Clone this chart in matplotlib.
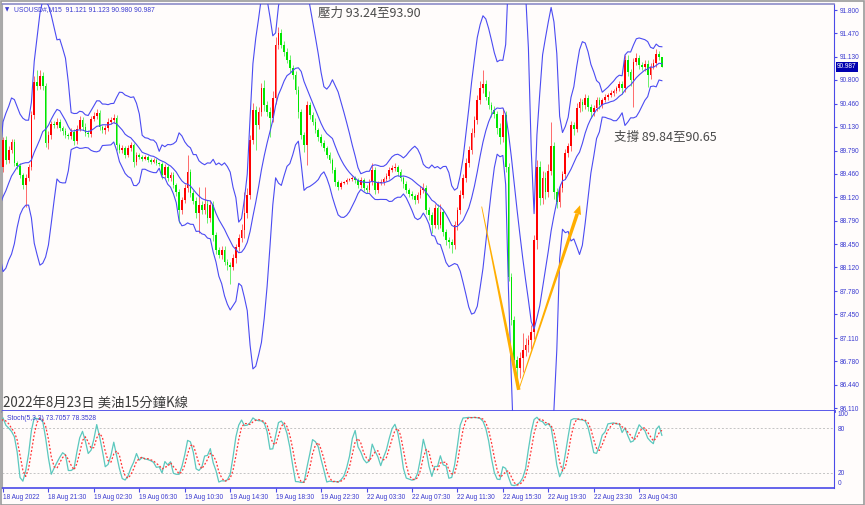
import matplotlib
matplotlib.use("Agg")
import matplotlib.pyplot as plt
import numpy as np
import pandas as pd
from matplotlib.patches import Polygon, Rectangle

# ---- data (USOUSD#, M15) ----
# closes before the first visible bar, only used to warm up the indicators
pre_closes = [88.58, 88.60, 88.55, 88.62, 88.70, 88.66, 88.74, 88.80, 88.72, 88.85,
              88.78, 88.80, 88.72, 88.88, 88.98, 88.92, 89.06, 89.15, 89.30, 89.55]
pre_wick_hi = [5, 4, 6, 3, 5, 4, 6, 5, 4, 5, 6, 4, 5, 6, 5, 4, 6, 5, 4, 6]
pre_wick_lo = [4, 5, 3, 6, 4, 5, 4, 6, 5, 4, 5, 6, 4, 5, 4, 6, 5, 4, 6, 5]
first_open = 88.55

closes = [
    89.94, 89.65, 89.80, 89.91, 89.61, 89.57, 89.44, 89.30, 89.40, 89.56,
    90.30, 90.77, 90.71, 90.86, 90.71, 89.90, 90.01, 90.17, 90.16, 90.20,
    90.11, 90.07, 90.01, 90.00, 90.06, 89.93, 90.10, 90.23, 90.13, 90.04,
    90.03, 90.24, 90.28, 90.33, 90.13, 90.08, 90.11, 90.20, 90.23, 90.26,
    89.87, 89.80, 89.83, 89.73, 89.83, 89.87, 89.63, 89.73, 89.70, 89.67,
    89.70, 89.66, 89.63, 89.66, 89.61, 89.60, 89.44, 89.56, 89.40, 89.44,
    89.30, 89.20, 88.94, 89.08, 89.25, 89.48, 89.18, 89.07, 88.90, 89.01,
    88.94, 89.03, 88.83, 89.01, 88.58, 88.37, 88.30, 88.37, 88.20, 88.15,
    88.13, 88.25, 88.41, 88.54, 88.66, 88.90, 89.16, 89.94, 90.37, 90.16,
    90.34, 90.68, 90.44, 90.34, 90.26, 90.54, 91.30, 91.47, 91.30, 91.20,
    91.09, 90.97, 90.87, 90.66, 90.34, 90.01, 89.87, 90.44, 90.30, 90.20,
    90.08, 89.98, 89.90, 89.83, 89.73, 89.66, 89.51, 89.34, 89.27, 89.33,
    89.34, 89.37, 89.38, 89.40, 89.37, 89.30, 89.37, 89.26, 89.23, 89.34,
    89.51, 89.23, 89.33, 89.34, 89.38, 89.43, 89.51, 89.54, 89.56, 89.48,
    89.40, 89.31, 89.23, 89.17, 89.14, 89.08, 89.16, 89.23, 89.26, 88.94,
    88.87, 88.73, 88.97, 88.73, 88.91, 88.63, 88.51, 88.48, 88.44, 88.73,
    88.94, 89.16, 89.40, 89.61, 89.80, 90.04, 90.23, 90.51, 90.68, 90.74,
    90.56, 90.44, 90.37, 90.31, 90.11, 89.98, 90.30, 89.56, 87.98, 87.37,
    86.80, 86.68, 86.83, 86.94, 87.01, 87.08, 87.20, 88.51, 89.56, 89.11,
    89.40, 89.20, 89.50, 89.85, 89.20, 89.05, 89.25, 89.45, 89.75, 89.85,
    90.15, 90.10, 90.40, 90.48, 90.44, 90.54, 90.41, 90.34, 90.40, 90.51,
    90.44, 90.51, 90.56, 90.58, 90.61, 90.64, 90.68, 90.74, 90.68, 91.09,
    90.91, 90.80, 91.06, 91.11, 91.01, 90.99, 91.03, 90.87, 90.99, 91.04,
    91.17, 91.121, 90.987,
]
# wick length above / below the body, in cents
wick_hi = [
    4, 6, 5, 4, 5, 3, 4, 3, 5, 4,
    6, 8, 17, 8, 6, 5, 6, 5, 4, 5,
    4, 3, 4, 3, 5, 4, 5, 6, 4, 5,
    4, 5, 6, 5, 4, 3, 4, 5, 4, 6,
    4, 3, 4, 3, 4, 5, 3, 4, 3, 2,
    3, 2, 2, 3, 2, 2, 3, 4, 3, 5,
    4, 3, 4, 5, 6, 25, 5, 4, 5, 26,
    6, 24, 5, 8, 6, 5, 4, 6, 5, 4,
    5, 6, 5, 6, 8, 30, 10, 8, 10, 6,
    8, 8, 12, 6, 8, 10, 12, 9, 6, 5,
    5, 6, 5, 6, 5, 4, 5, 6, 5, 4,
    5, 4, 5, 4, 3, 4, 3, 4, 3, 3,
    2, 3, 2, 3, 2, 3, 4, 3, 4, 5,
    10, 4, 3, 4, 3, 4, 5, 4, 5, 3,
    4, 3, 4, 3, 4, 3, 4, 5, 6, 4,
    5, 4, 6, 5, 12, 5, 4, 5, 4, 6,
    5, 6, 5, 8, 6, 7, 6, 8, 10, 20,
    6, 8, 5, 6, 5, 8, 10, 6, 5, 6,
    5, 6, 8, 24, 10, 8, 10, 8, 10, 8,
    10, 8, 10, 35, 6, 5, 6, 5, 6, 5,
    6, 5, 7, 6, 5, 6, 4, 5, 4, 5,
    4, 3, 4, 3, 4, 3, 4, 4, 5, 6,
    6, 5, 5, 8, 5, 4, 5, 6, 5, 6,
    7, 5, 0.2,
]
wick_lo = [
    6, 5, 4, 5, 4, 5, 4, 6, 32, 4,
    5, 6, 5, 4, 6, 6, 8, 5, 4, 5,
    4, 5, 4, 5, 4, 6, 4, 3, 5, 4,
    5, 4, 3, 4, 5, 4, 5, 4, 3, 4,
    7, 5, 4, 5, 3, 4, 8, 4, 3, 3,
    2, 3, 3, 2, 3, 3, 6, 4, 5, 4,
    5, 6, 19, 5, 4, 5, 6, 5, 8, 29,
    6, 5, 8, 6, 8, 6, 5, 6, 5, 6,
    25, 5, 6, 5, 6, 12, 8, 6, 6, 36,
    6, 6, 8, 6, 28, 6, 8, 6, 5, 6,
    5, 6, 5, 6, 8, 6, 10, 29, 6, 5,
    4, 5, 4, 5, 4, 5, 4, 5, 4, 3,
    2, 3, 2, 3, 4, 5, 4, 5, 4, 3,
    4, 6, 4, 3, 4, 3, 4, 3, 4, 5,
    4, 5, 4, 5, 4, 5, 4, 5, 4, 6,
    7, 12, 5, 6, 5, 6, 7, 8, 11, 6,
    8, 6, 5, 6, 5, 6, 5, 6, 5, 6,
    5, 6, 10, 6, 8, 10, 6, 8, 6, 8,
    10, 24, 14, 20, 8, 10, 12, 10, 12, 10,
    8, 10, 8, 6, 10, 8, 6, 5, 6, 5,
    6, 8, 5, 6, 8, 5, 6, 8, 5, 4,
    6, 4, 3, 4, 3, 4, 3, 4, 8, 5,
    6, 8, 39, 5, 6, 5, 6, 17, 5, 4,
    5, 4, 0.7,
]

price_ticks = [91.800, 91.470, 91.130, 90.800, 90.460, 90.130, 89.790, 89.460, 89.120,
               88.790, 88.450, 88.120, 87.780, 87.450, 87.110, 86.780, 86.440, 86.110]
time_labels = ['18 Aug 2022', '18 Aug 21:30', '19 Aug 02:30', '19 Aug 06:30', '19 Aug 10:30',
               '19 Aug 14:30', '19 Aug 18:30', '19 Aug 22:30', '22 Aug 03:30', '22 Aug 07:30',
               '22 Aug 11:30', '22 Aug 15:30', '22 Aug 19:30', '22 Aug 23:30', '23 Aug 04:30']
bars_per_label = 16
bb_period, bb_dev = 10, 3

# V annotation (bar index, price)
v_left_top = (168.55, 88.99)
v_bottom = (181.6, 86.37)
v_right_tip = (203.2, 89.01)

# ---- bars and indicators ----
n_pre = len(pre_closes)
c_all = np.array(pre_closes + closes, dtype=float)
o_all = np.r_[first_open, c_all[:-1]]
h_all = np.maximum(o_all, c_all) + np.array(pre_wick_hi + wick_hi) / 100.0
l_all = np.minimum(o_all, c_all) - np.array(pre_wick_lo + wick_lo) / 100.0
x_all = np.arange(len(c_all)) - n_pre

s = pd.Series(c_all)
bb_mid = s.rolling(bb_period).mean()
bb_sd = s.rolling(bb_period).std(ddof=0)
bb_up = bb_mid + bb_dev * bb_sd
bb_lo = bb_mid - bb_dev * bb_sd

ll = pd.Series(l_all).rolling(5).min()
hh = pd.Series(h_all).rolling(5).max()
st_main = 100 * (s - ll).rolling(3).sum() / (hh - ll).rolling(3).sum()
st_sig = st_main.rolling(3).mean()

vis = x_all >= 0
xv, ov, hv, lv, cv = x_all[vis], o_all[vis], h_all[vis], l_all[vis], c_all[vis]
up = cv >= ov

# ---- figure ----
W, H = 865, 505
BG = '#fffcfb'
AX = '#4a4ae8'
TXT = '#3a3ad0'


def rect(x0, y0, x1, y1):
    return [x0 / W, 1 - y1 / H, (x1 - x0) / W, (y1 - y0) / H]


fig = plt.figure(figsize=(W / 100, H / 100), dpi=100, facecolor=BG)
ax = fig.add_axes(rect(2, 4, 834, 411), facecolor=BG)
ax2 = fig.add_axes(rect(2, 411, 834, 488), facecolor=BG, sharex=ax)

px_per_bar = 2.84
x_left = (2 - 3) / px_per_bar
x_right = x_left + 832 / px_per_bar
ax.set_xlim(x_left, x_right)
ax.set_ylim(91.8 - 401 / 69.95, 91.8 + 6 / 69.95)
ax2.set_ylim(-0.68, 103.4)

# candles
ax.vlines(xv, lv, hv, colors=np.where(up, '#ff6a6a', '#6cf06c'), linewidth=0.7, zorder=2)
body_h = np.maximum(np.abs(cv - ov), 0.01)
ax.bar(xv, body_h, bottom=np.minimum(ov, cv), width=0.6,
       color=np.where(up, '#ff0000', '#00e600'), linewidth=0, zorder=3)

# bollinger bands
for band in (bb_up, bb_mid, bb_lo):
    ax.plot(x_all, band, color='#4b4bf2', linewidth=0.8, zorder=4)

# stochastic
ax2.axhline(80, color='#c4c4c4', linewidth=0.7, linestyle=(0, (2, 2)))
ax2.axhline(20, color='#c4c4c4', linewidth=0.7, linestyle=(0, (2, 2)))
ax2.plot(x_all, st_main, color='#5cc8be', linewidth=0.9, zorder=3)
ax2.plot(x_all, st_sig, color='#ff3535', linewidth=0.9, linestyle=(0, (1.5, 1.5)), zorder=4)

# axes styling
for a in (ax, ax2):
    a.spines['left'].set_color('#a8a8a8')
    a.spines['right'].set_color(AX)
    a.spines['top'].set_visible(False)
    a.spines['bottom'].set_visible(False)
ax.spines['top'].set_visible(True)
ax.spines['top'].set_color('#8c8cc8')
ax.spines['top'].set_linewidth(1.2)
ax.spines['bottom'].set_visible(True)
ax.spines['bottom'].set_color(AX)
ax.spines['bottom'].set_linewidth(2.0)
ax2.spines['bottom'].set_visible(True)
ax2.spines['bottom'].set_color(AX)
ax2.spines['bottom'].set_linewidth(1.2)

ax.yaxis.tick_right()
ax.set_yticks(price_ticks)
ax.set_yticklabels(['%.3f' % t for t in price_ticks])
ax.tick_params(axis='y', direction='out', length=2.5, width=0.8, color=AX,
               labelsize=4.7, labelcolor=TXT, pad=1.5)
for lab in ax.get_yticklabels():
    lab.set_family('Liberation Sans')
ax.tick_params(axis='x', bottom=False, labelbottom=False)

ax2.yaxis.tick_right()
ax2.set_yticks([100, 80, 20, 0])
ax2.set_yticklabels(['100', '80', '20', '0'])
ax2.tick_params(axis='y', length=0, labelsize=4.7, labelcolor=TXT, pad=2.5)
for lab in ax2.get_yticklabels():
    lab.set_family('Liberation Sans')
    if lab.get_text() == '0':
        lab.set_va('bottom')

ax2.set_xticks(np.arange(len(time_labels)) * bars_per_label)
ax2.set_xticklabels(time_labels)
ax2.tick_params(axis='x', direction='out', length=3, width=0.8, color=AX,
                labelsize=4.7, labelcolor=TXT, pad=1.5)
for lab in ax2.get_xticklabels():
    lab.set_ha('left')
    lab.set_family('Liberation Sans')

# headers and price box
fig.text(5 / W, 1 - 10 / H, '\u25bc', color=TXT, fontsize=4, va='center')
fig.text(14 / W, 1 - 10 / H, 'USOUSD#,M15  91.121 91.123 90.980 90.987', color=TXT,
         fontsize=4.9, va='center', family='Liberation Sans')
fig.text(7 / W, 1 - 418 / H, 'Stoch(5,3,3) 73.7057 78.3528', color=TXT,
         fontsize=4.9, va='center', family='Liberation Sans')
fig.text(837 / W, 1 - 67 / H, '%.3f' % closes[-1], color='white', fontsize=4.7,
         va='center', family='Liberation Sans',
         bbox=dict(boxstyle='square,pad=0.2', fc='#0000b0', ec='none'))

cjk = ['Noto Sans CJK TC', 'DejaVu Sans']
fig.text(318 / W, 1 - 13 / H, '壓力 93.24至93.90', color='#4a4a4a', fontsize=9,
         va='center', family=cjk)
fig.text(614 / W, 1 - 137 / H, '支撐 89.84至90.65', color='#4a4a4a', fontsize=9,
         va='center', family=cjk)
fig.text(3 / W, 1 - 403 / H, '2022年8月23日 美油15分鐘K線', color='#3a3a3a', fontsize=9.6,
         va='center', family=cjk)


# orange V drawn as tapered strokes
def taper(p0, p1, w0, w1):
    a = ax.transData.transform(p0)
    b = ax.transData.transform(p1)
    d = (b - a) / np.hypot(*(b - a))
    n = np.array([-d[1], d[0]])
    pts = [a + n * w0 / 2, b + n * w1 / 2, b - n * w1 / 2, a - n * w0 / 2]
    return ax.transData.inverted().transform(pts)


ORANGE = '#ffae00'
ax.add_patch(Polygon(taper(v_left_top, v_bottom, 0.8, 3.6), closed=True,
                     fc=ORANGE, ec='none', zorder=6, clip_on=False))
a = ax.transData.transform(v_bottom)
b = ax.transData.transform(v_right_tip)
d = (b - a) / np.hypot(*(b - a))
n = np.array([-d[1], d[0]])
base = b - d * 9
ax.add_patch(Polygon(taper(v_bottom, tuple(ax.transData.inverted().transform(base)), 0.8, 3.6),
                     closed=True, fc=ORANGE, ec='none', zorder=6))
head = ax.transData.inverted().transform([b, base + n * 4, base - n * 4])
ax.add_patch(Polygon(head, closed=True, fc=ORANGE, ec='none', zorder=6))

# outer frame
fig.patches.append(Rectangle((0.5 / W, 0.5 / H), 1 - 1.5 / W, 1 - 1.5 / H,
                             transform=fig.transFigure, fill=False, ec='#9a9a9a', lw=1.2))

fig.savefig('out.png', dpi=100, facecolor=BG)
